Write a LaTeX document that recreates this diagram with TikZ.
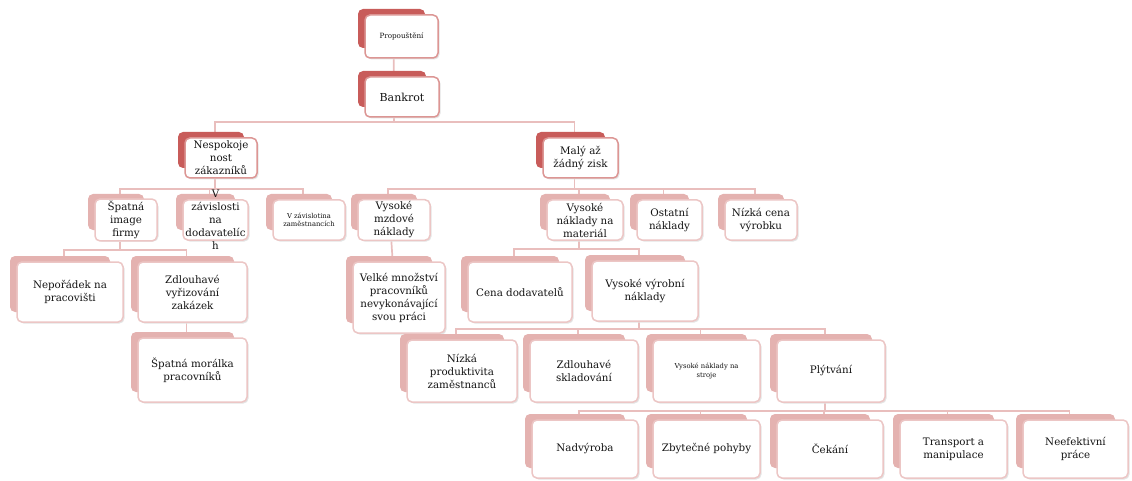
\documentclass[tikz,border=0pt]{standalone}
\usepackage{fontspec}
\setmainfont{DejaVu Serif}
\usetikzlibrary{calc}
\pgfdeclarelayer{background}
\pgfsetlayers{background,main}

\definecolor{backA}{RGB}{200,92,90}
\definecolor{edgeA}{RGB}{220,150,148}
\definecolor{backB}{RGB}{228,178,176}
\definecolor{edgeB}{RGB}{236,198,197}
\definecolor{linkc}{RGB}{233,190,189}
\definecolor{inkc}{RGB}{20,20,20}
\definecolor{shadec}{RGB}{228,228,228}

\tikzset{
  card/.style={draw=edge#1, line width=1.5pt, fill=white, rounded corners=5pt,
    align=center, inner sep=2pt, text=inkc, font=\fontsize{10.3}{13}\selectfont},
  backing/.style={fill=back#1, rounded corners=5pt},
  shadow/.style={fill=shadec, rounded corners=5pt},
  link/.style={draw=linkc, line width=1.7pt},
  tinytext/.style={font=\fontsize{6.8}{8.5}\selectfont},
  plaintext/.style={text=inkc, align=center, font=\fontsize{10.3}{13}\selectfont},
}

% \cardbox[options]{name}{x1}{y1}{x2}{y2}{level A/B}{text}
% a white card with a coloured sheet peeking out at its top and left side
\newcommand\cardbox[8][]{%
  \fill[shadow] ({#3+1.5},{#4+1.5}) rectangle ({#5+1.5},{#6+1.5});
  \fill[backing=#7] ({#3-7},{#4-6}) rectangle ({#5-13},{#6-10});
  \node[card=#7, minimum width={#5-#3}, minimum height={#6-#4}, #1]
    (#2) at ({(#3+#5)/2},{(#4+#6)/2}) {#8};
}

\begin{document}
\begin{tikzpicture}[x=1pt,y=-1pt]
\useasboundingbox (0,0) rectangle (1132,481);

% top of the hierarchy
\cardbox[font=\fontsize{7.2}{9}\selectfont]{prop}{365}{15}{438}{58}{A}{Propouštění}
\cardbox[font=\fontsize{11}{13}\selectfont]{bank}{365}{77}{439}{117}{A}{Bankrot}
\cardbox{nesp}{185}{138}{257}{178}{A}{Nespokoje\\nost\\zákazníků}
\cardbox{maly}{543}{138}{618}{178}{A}{Malý až\\žádný zisk}

% third level
\cardbox{spat}{95}{200}{157}{240}{B}{Špatná\\image\\firmy}
\cardbox{vzd}{183}{200}{248}{240}{B}{}
\node[plaintext] (vzdtext) at (vzd.center) {V\\závislosti\\na\\dodavatelíc\\h};
\cardbox[tinytext]{vzz}{273}{200}{345}{240}{B}{V závislotina\\zaměstnancích}
\cardbox{vmn}{358}{200}{430}{240}{B}{Vysoké\\mzdové\\náklady}
\cardbox{vnm}{547}{200}{623}{240}{B}{Vysoké\\náklady na\\materiál}
\cardbox{ost}{637}{200}{702}{240}{B}{Ostatní\\náklady}
\cardbox{niz}{725}{200}{797}{240}{B}{Nízká cena\\výrobku}

% fourth level
\cardbox{nep}{17}{262}{123}{322}{B}{Nepořádek na\\pracovišti}
\cardbox{zdl}{138}{262}{247}{322}{B}{Zdlouhavé\\vyřizování\\zakázek}
\cardbox{velke}{353}{262}{445}{333}{B}{Velké množství\\pracovníků\\nevykonávající\\svou práci}
\cardbox{cena}{468}{262}{572}{322}{B}{Cena dodavatelů}
\cardbox{vvn}{592}{261}{698}{321}{B}{Vysoké výrobní\\náklady}

% fifth level
\cardbox{spm}{138}{338}{247}{402}{B}{Špatná morálka\\pracovníků}
\cardbox{npz}{407}{340}{517}{402}{B}{Nízká\\produktivita\\zaměstnanců}
\cardbox{zsk}{530}{340}{638}{402}{B}{Zdlouhavé\\skladování}
\cardbox[tinytext]{vns}{653}{340}{760}{402}{B}{Vysoké náklady na\\stroje}
\cardbox{ply}{777}{340}{885}{402}{B}{Plýtvání}

% sixth level
\cardbox{nad}{532}{420}{638}{478}{B}{Nadvýroba}
\cardbox{zby}{653}{420}{760}{478}{B}{Zbytečné pohyby}
\cardbox{cek}{777}{420}{883}{478}{B}{Čekání}
\cardbox{tra}{900}{420}{1007}{478}{B}{Transport a\\manipulace}
\cardbox{nee}{1023}{420}{1128}{478}{B}{Neefektivní\\práce}

% connectors, kept behind the cards
\begin{pgfonlayer}{background}
  \draw[link] ([xshift=-8pt]prop.center) -- ([xshift=-8pt]bank.center);
  \foreach \c in {nesp,maly}
    \draw[link] ([xshift=-8pt]bank.south) -- ++(0,4) -| ([xshift=-6pt]\c.north);
  \foreach \c in {spat,vzd,vzz}
    \draw[link] ([xshift=-6pt]nesp.south) -- ++(0,10) -| ([xshift=-6pt]\c.north);
  \foreach \c in {vmn,vnm,ost,niz}
    \draw[link] ([xshift=-6pt]maly.south) -- ++(0,10) -| ([xshift=-6pt]\c.north);
  \foreach \c in {nep,zdl}
    \draw[link] ([xshift=-6pt]spat.south) -- ++(0,8) -| ([xshift=-6pt]\c.north);
  \draw[link] ([xshift=-6pt]zdl.center) -- ([xshift=-6pt]spm.center);
  \draw[link] ([xshift=-4pt]vmn.center) -- ([xshift=-4pt]velke.center);
  \foreach \c in {cena,vvn}
    \draw[link] ([xshift=-6pt]vnm.south) -- ++(0,8) -| ([xshift=-6pt]\c.north);
  \foreach \c in {npz,zsk,vns,ply}
    \draw[link] ([xshift=-6pt]vvn.south) -- ++(0,7) -| ([xshift=-6pt]\c.north);
  \foreach \c in {nad,zby,cek,tra,nee}
    \draw[link] ([xshift=-6pt]ply.south) -- ++(0,8) -| ([xshift=-6pt]\c.north);
\end{pgfonlayer}
\end{tikzpicture}
\end{document}
